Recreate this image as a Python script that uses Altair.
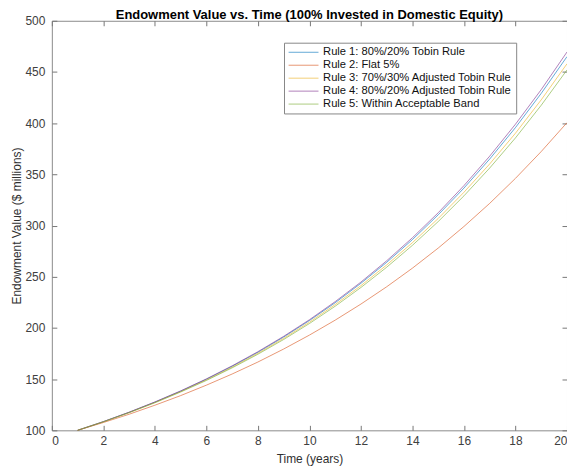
import altair as alt
import pandas as pd

years = list(range(1, 21))
names = [
    "Rule 1: 80%/20% Tobin Rule",
    "Rule 2: Flat 5%",
    "Rule 3: 70%/30% Adjusted Tobin Rule",
    "Rule 4: 80%/20% Adjusted Tobin Rule",
    "Rule 5: Within Acceptable Band",
]
colors = ["#0072BD", "#D95319", "#EDB120", "#7E2F8E", "#77AC30"]

rule1 = [100, 108.4, 117.6, 127.5, 138.2, 149.9, 162.5, 176.2, 191.1, 207.2,
         224.6, 243.6, 264.1, 286.3, 310.5, 336.6, 365.0, 395.7, 429.1, 465.0]
rule2 = [100, 107.6, 115.7, 124.5, 133.9, 144.1, 155.0, 166.7, 179.4, 193.0,
         207.6, 223.3, 240.2, 258.4, 278.0, 299.1, 321.7, 346.1, 372.3, 400.5]
rule3 = [100, 108.3, 117.4, 127.2, 137.8, 149.3, 161.7, 175.2, 189.8, 205.6,
         222.8, 241.3, 261.5, 283.3, 306.9, 332.5, 360.2, 390.2, 422.8, 458.0]
rule4 = [100, 108.5, 117.7, 127.7, 138.5, 150.2, 163.0, 176.8, 191.8, 208.0,
         225.7, 244.8, 265.6, 288.1, 312.5, 339.0, 367.8, 399.0, 432.8, 469.5]
rule5 = [100, 108.3, 117.2, 126.9, 137.4, 148.7, 161.0, 174.3, 188.7, 204.3,
         221.2, 239.5, 259.3, 280.7, 303.9, 329.0, 356.2, 385.6, 417.5, 452.0]

xticks = list(range(0, 21, 2))
yticks = list(range(100, 501, 50))

rows = []
for name, vals in zip(names, [rule1, rule2, rule3, rule4, rule5]):
    for t, v in zip(years, vals):
        rows.append({"t": t, "v": v, "rule": name})
df = pd.DataFrame(rows)

FONT = "Liberation Sans"
TICK = "#777777"
xs = alt.Scale(domain=[0, 20], nice=False)
ys = alt.Scale(domain=[100, 500], nice=False)

base = alt.Chart(df)

lines = base.mark_line(strokeWidth=1, opacity=0.6).encode(
    x=alt.X("t:Q", scale=xs, axis=alt.Axis(
        values=xticks, orient="bottom", title="Time (years)", ticks=False,
        domain=False, grid=False, labelPadding=5, titlePadding=7,
        labelFont=FONT, labelFontSize=12, labelColor="#404040",
        titleFont=FONT, titleFontSize=12, titleFontWeight="normal", titleColor="#303030")),
    y=alt.Y("v:Q", scale=ys, axis=alt.Axis(
        values=yticks, orient="left", title="Endowment Value ($ millions)", ticks=False,
        domain=False, grid=False, labelPadding=7, titlePadding=1,
        labelFont=FONT, labelFontSize=12, labelColor="#404040",
        titleFont=FONT, titleFontSize=12, titleFontWeight="normal", titleColor="#303030")),
    color=alt.Color("rule:N", scale=alt.Scale(domain=names, range=colors),
                    legend=alt.Legend(
                        title=None, orient="none", legendX=233, legendY=22,
                        fillColor="white", strokeColor="#888888", padding=4,
                        labelFont=FONT, labelFontSize=11.2, labelColor="#111111",
                        symbolType="M-1,0H5", symbolSize=100, symbolStrokeWidth=1,
                        rowPadding=1, labelLimit=400, labelOffset=24)),
)

ticks_a = base.mark_point(opacity=0).encode(
    x=alt.X("t:Q", scale=xs, axis=alt.Axis(
        values=xticks, orient="bottom", labels=False, title=None, domain=False,
        grid=False, ticks=True, tickSize=5, tickWidth=1, offset=-5, tickColor=TICK)),
    y=alt.Y("v:Q", scale=ys, axis=alt.Axis(
        values=yticks, orient="left", labels=False, title=None, domain=False,
        grid=False, ticks=True, tickSize=5, tickWidth=1, offset=-5, tickColor=TICK)),
)
ticks_b = base.mark_point(opacity=0).encode(
    x=alt.X("t:Q", scale=xs, axis=alt.Axis(
        values=xticks, orient="top", labels=False, title=None, domain=False,
        grid=False, ticks=True, tickSize=5, tickWidth=1, offset=-5, tickColor=TICK)),
    y=alt.Y("v:Q", scale=ys, axis=alt.Axis(
        values=yticks, orient="right", labels=False, title=None, domain=False,
        grid=False, ticks=True, tickSize=5, tickWidth=1, offset=-5, tickColor=TICK)),
)

chart = alt.layer(lines, ticks_a, ticks_b).resolve_axis(
    x="independent", y="independent"
).properties(
    width=517, height=411,
    autosize=alt.AutoSizeParams(type="none"),
    padding={"left": 44, "top": 12, "right": 0, "bottom": 40},
    title=alt.TitleParams(
        "Endowment Value vs. Time (100% Invested in Domestic Equity)",
        font=FONT, fontSize=13, fontWeight="bold", color="black",
        anchor="middle", offset=-7),
    background="white",
).configure_view(stroke="#8c8c8c", strokeWidth=1)

chart.save("out.html", embed_options={"renderer": "svg", "actions": False})
